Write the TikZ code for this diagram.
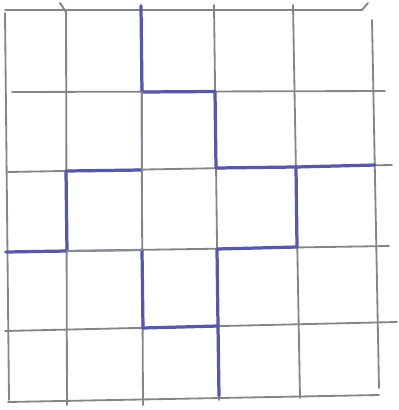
\documentclass[tikz,border=0pt]{standalone}
\definecolor{ink}{RGB}{88,88,168}
\begin{document}
\begin{tikzpicture}[x=0.025cm,y=-0.025cm,
  pencil/.style={draw=black!48,line width=1.3pt,line cap=round},
  pen/.style={draw=ink,line width=2.3pt,line cap=round,line join=round},
  faint/.style={draw=ink!45!black!55,line width=1.6pt,line cap=round}]
  \useasboundingbox (0,0) rectangle (399,410);
  % pencil grid
  \draw[pencil] (5,13) -- (9,400);
  \draw[pencil] (60,3) -- (66,12) -- (67,405);
  \draw[pencil] (141,5) -- (143,405);
  \draw[pencil] (214,5) -- (219,400);
  \draw[pencil] (293,5) -- (300,398);
  \draw[pencil] (372,20) -- (379,388);
  \draw[pencil] (5,10) -- (362,10) -- (368,3);
  \draw[pencil] (12,92) -- (385,91);
  \draw[pencil] (8,172) -- (392,165);
  \draw[pencil] (5,252) -- (389,246);
  \draw[pencil] (5,331) -- (397,322);
  \draw[pencil] (8,402) -- (379,395);
  % pen cuts
  \draw[pen] (141,6) -- (142,92) -- (215,91.5) -- (216,168) -- (296,167);
  \draw[pen] (375,165) -- (296,167) -- (297,247) -- (217,249) -- (218,326);
  \draw[pen] (219,396) -- (218,326) -- (143,328) -- (142,250);
  \draw[pen] (6,252) -- (67,251) -- (66,171) -- (142,170);
  \draw[faint] (142,250) -- (67,251);
  \draw[faint] (142,170) -- (142,92);
\end{tikzpicture}
\end{document}
